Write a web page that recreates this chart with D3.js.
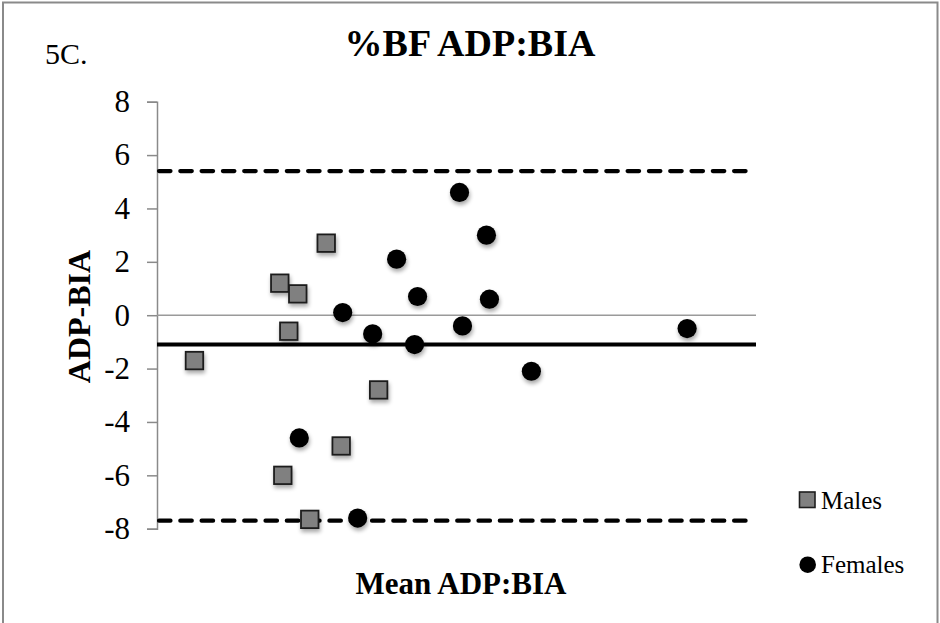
<!DOCTYPE html>
<html>
<head>
<meta charset="utf-8">
<script src="https://cdn.jsdelivr.net/npm/d3@7"></script>
<style>
  html, body { margin: 0; padding: 0; background: #fff; }
  svg { display: block; }
  text { font-family: "Liberation Serif", "Times New Roman", serif; fill: #000; }
</style>
</head>
<body>
<svg id="chart" width="940" height="623"></svg>
<script>
// Bland–Altman data: mean of the two methods (x) and their difference (y)
const maleMean   = [12.5, 18.2, 19.4, 21.3, 18.8, 24.8, 22.3, 18.4, 20.2];
const maleDiff   = [-1.7, 1.2, 0.8, 2.7, -0.6, -2.8, -4.9, -6.0, -7.65];
const femaleMean = [19.5, 22.4, 24.4, 26.0, 27.4, 27.2, 30.2, 30.4, 32.0, 32.2, 35.0, 23.4, 45.4];
const femaleDiff = [-4.6, 0.1, -0.7, 2.1, 0.7, -1.1, 4.6, -0.4, 3.0, 0.6, -2.1, -7.6, -0.5];

// Bias and limits of agreement
const meanBias   = -1.1;
const upperLimit = 5.4;
const lowerLimit = -7.7;

const yTicks = [-8, -6, -4, -2, 0, 2, 4, 6, 8];
const seriesNames = ["Males", "Females"];

const svg = d3.select("#chart");

// Outer frame
svg.append("rect")
  .attr("x", 3).attr("y", 2.5)
  .attr("width", 934.5).attr("height", 640)
  .attr("fill", "none").attr("stroke", "#8a8a8a").attr("stroke-width", 2);

const plot = { left: 157, right: 756, top: 101.7, bottom: 528.7 };

const x = d3.scaleLinear().domain([10, 50]).range([plot.left, plot.right]);
const y = d3.scaleLinear().domain([-8, 8]).range([plot.bottom, plot.top]);

// Soft drop shadow for the markers
const defs = svg.append("defs");
const f = defs.append("filter").attr("id", "shadow")
  .attr("x", "-50%").attr("y", "-50%").attr("width", "200%").attr("height", "200%");
f.append("feGaussianBlur").attr("in", "SourceAlpha").attr("stdDeviation", 2).attr("result", "b");
f.append("feOffset").attr("in", "b").attr("dx", 1).attr("dy", 3).attr("result", "o");
f.append("feComponentTransfer").attr("in", "o").attr("result", "s")
  .append("feFuncA").attr("type", "linear").attr("slope", 0.35);
const fm = f.append("feMerge");
fm.append("feMergeNode").attr("in", "s");
fm.append("feMergeNode").attr("in", "SourceGraphic");

// Y axis (plain hyphen for negative labels)
const yAxis = d3.axisLeft(y).tickValues(yTicks).tickSize(10).tickPadding(17).tickFormat(d => String(d));
const ga = svg.append("g").attr("transform", `translate(${plot.left},0)`).call(yAxis);
ga.select(".domain").attr("stroke", "#8a8a8a").attr("stroke-width", 1.5);
ga.selectAll(".tick line").attr("stroke", "#8a8a8a").attr("stroke-width", 1.5);
ga.selectAll(".tick text")
  .attr("font-family", "Liberation Serif, Times New Roman, serif")
  .attr("font-size", 31).attr("fill", "#000");

// Zero reference line
svg.append("line")
  .attr("x1", plot.left).attr("x2", plot.right)
  .attr("y1", y(0)).attr("y2", y(0))
  .attr("stroke", "#9a9a9a").attr("stroke-width", 1.5);

// Bias line
svg.append("line")
  .attr("x1", plot.left).attr("x2", plot.right)
  .attr("y1", y(meanBias)).attr("y2", y(meanBias))
  .attr("stroke", "#000").attr("stroke-width", 4);

// Limits of agreement
[upperLimit, lowerLimit].forEach(v => {
  svg.append("line")
    .attr("x1", plot.left + 2).attr("x2", plot.right - 10)
    .attr("y1", y(v)).attr("y2", y(v))
    .attr("stroke", "#000").attr("stroke-width", 4.2)
    .attr("stroke-linecap", "round")
    .attr("stroke-dasharray", "11.5,9.8");
});

// Male markers (squares)
const sq = 17.5;
svg.append("g").attr("filter", "url(#shadow)")
  .selectAll("rect").data(d3.zip(maleMean, maleDiff)).join("rect")
  .attr("x", d => x(d[0]) - sq / 2).attr("y", d => y(d[1]) - sq / 2)
  .attr("width", sq).attr("height", sq)
  .attr("fill", "#808080").attr("stroke", "#1e1e1e").attr("stroke-width", 1.8);

// Female markers (circles)
svg.append("g").attr("filter", "url(#shadow)")
  .selectAll("circle").data(d3.zip(femaleMean, femaleDiff)).join("circle")
  .attr("cx", d => x(d[0])).attr("cy", d => y(d[1]))
  .attr("r", 9.6).attr("fill", "#000");

// Titles
svg.append("text").attr("x", 470).attr("y", 56)
  .attr("text-anchor", "middle").attr("font-size", 38).attr("font-weight", "bold")
  .text("%BF ADP:BIA");

svg.append("text").attr("x", 45).attr("y", 64)
  .attr("font-size", 30).text("5C.");

svg.append("text")
  .attr("transform", "translate(90,316.5) rotate(-90)")
  .attr("text-anchor", "middle").attr("font-size", 32).attr("font-weight", "bold")
  .text("ADP-BIA");

svg.append("text").attr("x", 461).attr("y", 594)
  .attr("text-anchor", "middle").attr("font-size", 31).attr("font-weight", "bold")
  .text("Mean ADP:BIA");

// Legend
const leg = svg.append("g");
leg.append("rect").attr("x", 799.5).attr("y", 492).attr("width", 15.5).attr("height", 15.5)
  .attr("fill", "#808080").attr("stroke", "#1e1e1e").attr("stroke-width", 1.6);
leg.append("text").attr("x", 821).attr("y", 509).attr("font-size", 25).text(seriesNames[0]);
leg.append("circle").attr("cx", 807.7).attr("cy", 564.7).attr("r", 8.3).attr("fill", "#000");
leg.append("text").attr("x", 821).attr("y", 572.5).attr("font-size", 25).text(seriesNames[1]);
</script>
</body>
</html>
